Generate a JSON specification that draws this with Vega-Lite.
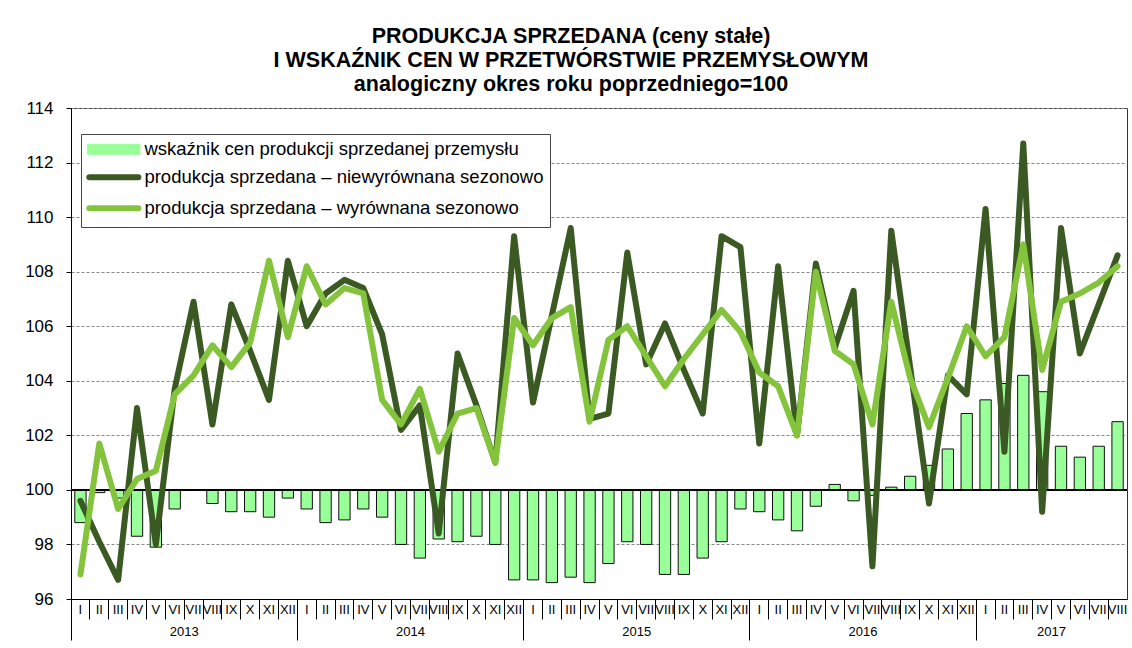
{
  "$schema": "https://vega.github.io/schema/vega-lite/v6.json",
  "width": 1056,
  "height": 491,
  "autosize": {"type": "none"},
  "padding": {"left": 71, "top": 108, "right": 5, "bottom": 49},
  "background": "white",
  "config": {
    "font": "Liberation Sans",
    "view": {"stroke": "#333333", "strokeWidth": 1}
  },
  "title": {
    "text": ["PRODUKCJA SPRZEDANA (ceny stałe)", "I WSKAŹNIK CEN W PRZETWÓRSTWIE PRZEMYSŁOWYM", "analogiczny okres roku poprzedniego=100"],
    "fontSize": 21.5,
    "fontWeight": "bold",
    "lineHeight": 24,
    "anchor": "middle",
    "frame": "group",
    "dx": -28,
    "offset": 4,
    "color": "black",
    "font": "Liberation Sans"
  },
  "data": {
    "values": [
      {"m": "2013-I", "bar": 98.8, "dark": 99.6, "light": 96.9},
      {"m": "2013-II", "bar": 99.9, "dark": 98.1, "light": 101.7},
      {"m": "2013-III", "bar": 99.7, "dark": 96.7, "light": 99.3},
      {"m": "2013-IV", "bar": 98.3, "dark": 103.0, "light": 100.4},
      {"m": "2013-V", "bar": 97.9, "dark": 98.0, "light": 100.7},
      {"m": "2013-VI", "bar": 99.3, "dark": 103.7, "light": 103.5},
      {"m": "2013-VII", "bar": 100.0, "dark": 106.9, "light": 104.2},
      {"m": "2013-VIII", "bar": 99.5, "dark": 102.4, "light": 105.3},
      {"m": "2013-IX", "bar": 99.2, "dark": 106.8, "light": 104.5},
      {"m": "2013-X", "bar": 99.2, "dark": 105.1, "light": 105.4},
      {"m": "2013-XI", "bar": 99.0, "dark": 103.3, "light": 108.4},
      {"m": "2013-XII", "bar": 99.7, "dark": 108.4, "light": 105.6},
      {"m": "2014-I", "bar": 99.3, "dark": 106.0, "light": 108.2},
      {"m": "2014-II", "bar": 98.8, "dark": 107.2, "light": 106.8},
      {"m": "2014-III", "bar": 98.9, "dark": 107.7, "light": 107.4},
      {"m": "2014-IV", "bar": 99.3, "dark": 107.4, "light": 107.2},
      {"m": "2014-V", "bar": 99.0, "dark": 105.7, "light": 103.3},
      {"m": "2014-VI", "bar": 98.0, "dark": 102.2, "light": 102.4},
      {"m": "2014-VII", "bar": 97.5, "dark": 103.1, "light": 103.7},
      {"m": "2014-VIII", "bar": 98.2, "dark": 98.4, "light": 101.4},
      {"m": "2014-IX", "bar": 98.1, "dark": 105.0, "light": 102.8},
      {"m": "2014-X", "bar": 98.3, "dark": 103.1, "light": 103.0},
      {"m": "2014-XI", "bar": 98.0, "dark": 101.0, "light": 101.0},
      {"m": "2014-XII", "bar": 96.7, "dark": 109.3, "light": 106.3},
      {"m": "2015-I", "bar": 96.7, "dark": 103.2, "light": 105.3},
      {"m": "2015-II", "bar": 96.6, "dark": 106.4, "light": 106.3},
      {"m": "2015-III", "bar": 96.8, "dark": 109.6, "light": 106.7},
      {"m": "2015-IV", "bar": 96.6, "dark": 102.6, "light": 102.5},
      {"m": "2015-V", "bar": 97.3, "dark": 102.8, "light": 105.5},
      {"m": "2015-VI", "bar": 98.1, "dark": 108.7, "light": 106.0},
      {"m": "2015-VII", "bar": 98.0, "dark": 104.6, "light": 104.9},
      {"m": "2015-VIII", "bar": 96.9, "dark": 106.1, "light": 103.8},
      {"m": "2015-IX", "bar": 96.9, "dark": 104.4, "light": 104.8},
      {"m": "2015-X", "bar": 97.5, "dark": 102.8, "light": 105.7},
      {"m": "2015-XI", "bar": 98.1, "dark": 109.3, "light": 106.6},
      {"m": "2015-XII", "bar": 99.3, "dark": 108.9, "light": 105.8},
      {"m": "2016-I", "bar": 99.2, "dark": 101.7, "light": 104.3},
      {"m": "2016-II", "bar": 98.9, "dark": 108.2, "light": 103.8},
      {"m": "2016-III", "bar": 98.5, "dark": 102.0, "light": 102.0},
      {"m": "2016-IV", "bar": 99.4, "dark": 108.3, "light": 108.0},
      {"m": "2016-V", "bar": 100.2, "dark": 105.2, "light": 105.1},
      {"m": "2016-VI", "bar": 99.6, "dark": 107.3, "light": 104.6},
      {"m": "2016-VII", "bar": 99.8, "dark": 97.2, "light": 102.4},
      {"m": "2016-VIII", "bar": 100.1, "dark": 109.5, "light": 106.9},
      {"m": "2016-IX", "bar": 100.5, "dark": 104.5, "light": 104.1},
      {"m": "2016-X", "bar": 100.9, "dark": 99.5, "light": 102.3},
      {"m": "2016-XI", "bar": 101.5, "dark": 104.2, "light": 104.1},
      {"m": "2016-XII", "bar": 102.8, "dark": 103.5, "light": 106.0},
      {"m": "2017-I", "bar": 103.3, "dark": 110.3, "light": 104.9},
      {"m": "2017-II", "bar": 103.9, "dark": 101.4, "light": 105.6},
      {"m": "2017-III", "bar": 104.2, "dark": 112.7, "light": 109.0},
      {"m": "2017-IV", "bar": 103.6, "dark": 99.2, "light": 104.4},
      {"m": "2017-V", "bar": 101.6, "dark": 109.6, "light": 106.9},
      {"m": "2017-VI", "bar": 101.2, "dark": 105.0, "light": 107.2},
      {"m": "2017-VII", "bar": 101.6, "dark": 106.8, "light": 107.6},
      {"m": "2017-VIII", "bar": 102.5, "dark": 108.6, "light": 108.2}
    ]
  },
  "layer": [
    {
      "mark": {"type": "bar", "width": {"band": 0.6}, "stroke": "#111111", "strokeWidth": 1},
      "encoding": {
        "x": {
          "field": "m", "type": "nominal", "sort": null,
          "scale": {"paddingInner": 0, "paddingOuter": 0},
          "axis": {
            "orient": "bottom", "title": null, "bandPosition": 0, "grid": false,
            "ticks": true, "tickOpacity": 1,
            "tickSize": 20, "tickColor": "black", "tickWidth": 1,
            "domainColor": "black", "domainWidth": 1,
            "labelExpr": "split(datum.value,'-')[1]",
            "labelOffset": 0, "labelPadding": -16, "labelFontSize": 13,
            "labelColor": "black", "labelAngle": 0, "labelOverlap": false,
            "labelBound": false, "labelAlign": "center", "labelBaseline": "top"
          }
        },
        "y": {
          "field": "bar", "type": "quantitative",
          "scale": {"domain": [96, 114], "nice": false, "zero": false},
          "axis": {
            "title": null, "values": [96, 98, 100, 102, 104, 106, 108, 110, 112, 114],
            "tickSize": 5, "tickColor": "black", "domainColor": "black",
            "labelFontSize": 17, "labelColor": "black", "labelPadding": 13,
            "grid": true, "gridColor": "#888888", "gridDash": [3, 2], "gridWidth": 1
          }
        },
        "y2": {"datum": 100},
        "color": {
          "datum": "cen", "type": "nominal",
          "scale": {"domain": ["cen", "niewyr", "wyr"], "range": ["#99FF99", "#3B5A23", "#84C43C"]},
          "legend": {
            "orient": "none", "legendX": 10, "legendY": 26, "title": null,
            "direction": "vertical", "padding": 6,
            "fillColor": "white", "strokeColor": "#444444",
            "symbolSize": 400, "symbolOffset": 17.6, "labelOffset": 21.3,
            "rowPadding": 6, "labelFontSize": 18.5, "labelColor": "black", "labelLimit": 700,
            "labelExpr": "datum.value === 'cen' ? 'wskaźnik cen produkcji sprzedanej przemysłu' : datum.value === 'niewyr' ? 'produkcja sprzedana – niewyrównana sezonowo' : 'produkcja sprzedana – wyrównana sezonowo'",
            "encode": {
              "symbols": {
                "update": {
                  "shape": {"signal": "datum.value === 'cen' ? 'M-2.6,-0.5H2.6V0.5H-2.6Z' : 'M-2.45,0H2.45'"},
                  "fill": {"signal": "datum.value === 'cen' ? '#99FF99' : 'transparent'"},
                  "stroke": {"signal": "datum.value === 'cen' ? '#222222' : (datum.value === 'niewyr' ? '#3B5A23' : '#84C43C')"},
                  "strokeWidth": {"signal": "datum.value === 'cen' ? 1 : 6"},
                  "strokeCap": {"value": "round"},
                  "strokeOpacity": {"value": 1},
                  "fillOpacity": {"value": 1},
                  "opacity": {"value": 1}
                }
              }
            }
          }
        }
      }
    },
    {
      "mark": {"type": "rule", "color": "black", "strokeWidth": 1},
      "encoding": {"y": {"datum": 100}}
    },
    {
      "mark": {"type": "line", "strokeWidth": 6, "strokeJoin": "round", "strokeCap": "round"},
      "encoding": {
        "x": {
          "field": "m", "type": "nominal", "sort": null,
          "axis": {
            "orient": "bottom", "title": null, "bandPosition": 0, "grid": false,
            "domain": false, "ticks": true, "tickSize": 41, "tickColor": "black", "tickWidth": 1,
            "tickOpacity": {"condition": {"test": "split(datum.value,'-')[1] === 'I'", "value": 1}, "value": 0},
            "labelExpr": "((split(datum.value,'-')[1] === 'VII' && split(datum.value,'-')[0] !== '2017') || datum.value === '2017-V') ? split(datum.value,'-')[0] : ''",
            "labelOffset": -9.43, "labelPadding": -15, "labelFontSize": 13, "labelColor": "black",
            "labelAngle": 0, "labelOverlap": false, "labelBound": false,
            "labelAlign": "center", "labelBaseline": "top"
          }
        },
        "y": {
          "field": "dark", "type": "quantitative",
          "axis": {
            "title": null, "values": [96, 98, 100, 102, 104, 106, 108, 110, 112, 114],
            "tickSize": 5, "tickColor": "black", "domainColor": "black",
            "labelFontSize": 17, "labelColor": "black", "labelPadding": 13,
            "grid": true, "gridColor": "#888888", "gridDash": [3, 2], "gridWidth": 1
          }
        },
        "color": {
          "datum": "niewyr", "type": "nominal",
          "legend": {
            "orient": "none", "legendX": 10, "legendY": 26, "title": null,
            "direction": "vertical", "padding": 6,
            "fillColor": "white", "strokeColor": "#444444",
            "symbolSize": 400, "symbolOffset": 17.6, "labelOffset": 21.3,
            "rowPadding": 6, "labelFontSize": 18.5, "labelColor": "black", "labelLimit": 700,
            "labelExpr": "datum.value === 'cen' ? 'wskaźnik cen produkcji sprzedanej przemysłu' : datum.value === 'niewyr' ? 'produkcja sprzedana – niewyrównana sezonowo' : 'produkcja sprzedana – wyrównana sezonowo'",
            "encode": {
              "symbols": {
                "update": {
                  "shape": {"signal": "datum.value === 'cen' ? 'M-2.6,-0.5H2.6V0.5H-2.6Z' : 'M-2.45,0H2.45'"},
                  "fill": {"signal": "datum.value === 'cen' ? '#99FF99' : 'transparent'"},
                  "stroke": {"signal": "datum.value === 'cen' ? '#222222' : (datum.value === 'niewyr' ? '#3B5A23' : '#84C43C')"},
                  "strokeWidth": {"signal": "datum.value === 'cen' ? 1 : 6"},
                  "strokeCap": {"value": "round"},
                  "strokeOpacity": {"value": 1},
                  "fillOpacity": {"value": 1},
                  "opacity": {"value": 1}
                }
              }
            }
          }
        }
      }
    },
    {
      "mark": {"type": "line", "strokeWidth": 6, "strokeJoin": "round", "strokeCap": "round"},
      "encoding": {
        "x": {"field": "m", "type": "nominal", "sort": null, "axis": null},
        "y": {
          "field": "light", "type": "quantitative",
          "axis": {
            "title": null, "values": [96, 98, 100, 102, 104, 106, 108, 110, 112, 114],
            "tickSize": 5, "tickColor": "black", "domainColor": "black",
            "labelFontSize": 17, "labelColor": "black", "labelPadding": 13,
            "grid": true, "gridColor": "#888888", "gridDash": [3, 2], "gridWidth": 1
          }
        },
        "color": {
          "datum": "wyr", "type": "nominal",
          "legend": {
            "orient": "none", "legendX": 10, "legendY": 26, "title": null,
            "direction": "vertical", "padding": 6,
            "fillColor": "white", "strokeColor": "#444444",
            "symbolSize": 400, "symbolOffset": 17.6, "labelOffset": 21.3,
            "rowPadding": 6, "labelFontSize": 18.5, "labelColor": "black", "labelLimit": 700,
            "labelExpr": "datum.value === 'cen' ? 'wskaźnik cen produkcji sprzedanej przemysłu' : datum.value === 'niewyr' ? 'produkcja sprzedana – niewyrównana sezonowo' : 'produkcja sprzedana – wyrównana sezonowo'",
            "encode": {
              "symbols": {
                "update": {
                  "shape": {"signal": "datum.value === 'cen' ? 'M-2.6,-0.5H2.6V0.5H-2.6Z' : 'M-2.45,0H2.45'"},
                  "fill": {"signal": "datum.value === 'cen' ? '#99FF99' : 'transparent'"},
                  "stroke": {"signal": "datum.value === 'cen' ? '#222222' : (datum.value === 'niewyr' ? '#3B5A23' : '#84C43C')"},
                  "strokeWidth": {"signal": "datum.value === 'cen' ? 1 : 6"},
                  "strokeCap": {"value": "round"},
                  "strokeOpacity": {"value": 1},
                  "fillOpacity": {"value": 1},
                  "opacity": {"value": 1}
                }
              }
            }
          }
        }
      }
    }
  ],
  "resolve": {"axis": {"x": "independent"}}
}
